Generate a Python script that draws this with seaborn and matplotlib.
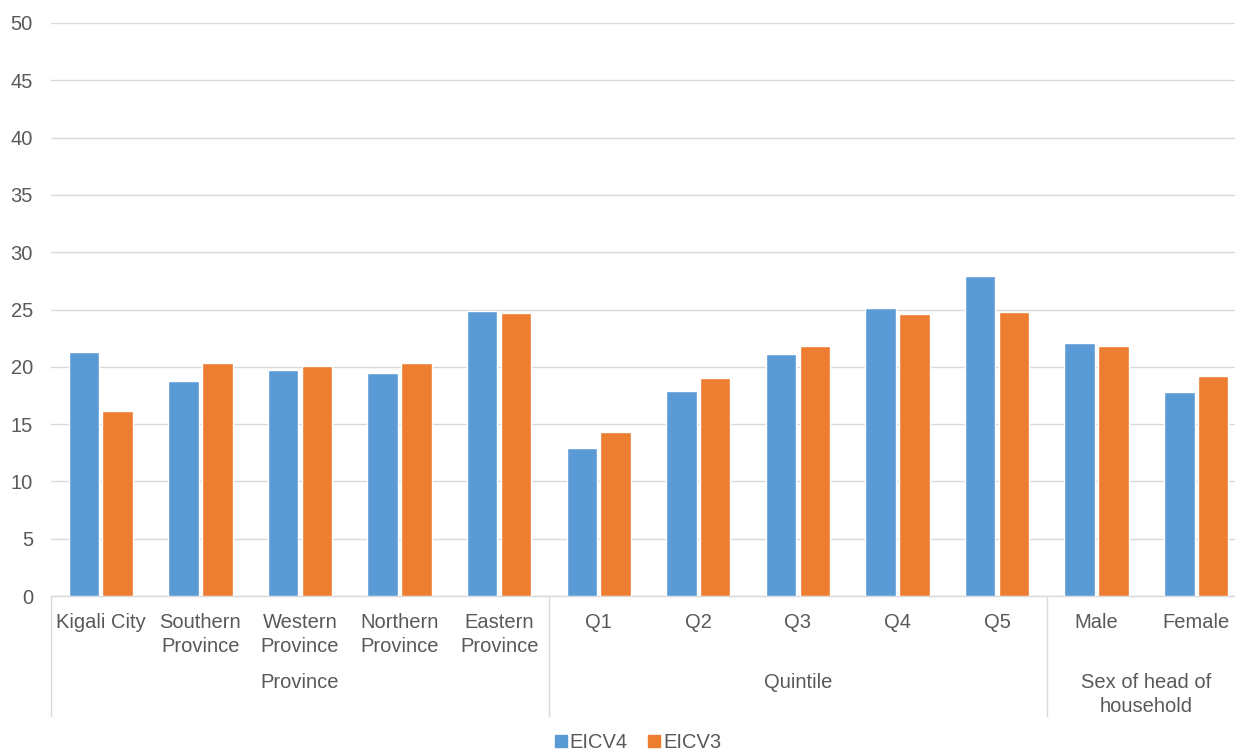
import numpy as np
import pandas as pd
import matplotlib
matplotlib.use("Agg")
import matplotlib.pyplot as plt
import matplotlib.transforms as mtrans
from matplotlib.lines import Line2D
import seaborn as sns

# data
categories = ["Kigali City", "Southern\nProvince", "Western\nProvince", "Northern\nProvince",
              "Eastern\nProvince", "Q1", "Q2", "Q3", "Q4", "Q5", "Male", "Female"]
eicv4 = [21.3, 18.8, 19.7, 19.5, 24.9, 12.9, 17.9, 21.1, 25.1, 27.9, 22.1, 17.8]
eicv3 = [16.1, 20.3, 20.1, 20.3, 24.7, 14.3, 19.0, 21.8, 24.6, 24.8, 21.8, 19.2]
groups = ["Province", "Quintile", "Sex of head of\nhousehold"]
group_sizes = [5, 5, 2]
series = ["EICV4", "EICV3"]
colors = ["#5b9bd5", "#ed7d31"]

df = pd.DataFrame({
    "category": categories * 2,
    "value": eicv4 + eicv3,
    "series": [series[0]] * len(categories) + [series[1]] * len(categories),
})

sns.set_style("white")
plt.rcParams['font.family'] = ['Liberation Sans', 'DejaVu Sans']
txt = "#595959"
grid_c = "#d9d9d9"
fs = 14.5

fig = plt.figure(figsize=(12.35, 7.51), dpi=100)
ax = fig.add_axes([51 / 1235, 155 / 751, 1195 / 1235, 573 / 751])

sns.barplot(data=df, x="category", y="value", hue="series", order=categories,
            hue_order=series, palette=colors, width=0.68, gap=0.1,
            saturation=1, ax=ax, legend=False, zorder=3)

ax.set_ylim(0, 50)
ax.set_xlim(-0.5, len(categories) - 0.5)
ax.set_yticks(np.arange(0, 51, 5))
ax.yaxis.grid(True, color=grid_c, linewidth=1, zorder=0)
ax.set_axisbelow(True)
for s in ["top", "right", "left"]:
    ax.spines[s].set_visible(False)
ax.spines["bottom"].set_color(grid_c)
ax.spines["bottom"].set_linewidth(1)
ax.set_xlabel("")
ax.set_ylabel("")
ax.tick_params(axis="y", length=0, pad=13, labelsize=fs, labelcolor=txt)
ax.tick_params(axis="x", length=0, pad=12.5, labelsize=fs, labelcolor=txt)
for lab in ax.get_xticklabels():
    lab.set_linespacing(1.32)

# group labels and separators under the axis
trans = mtrans.blended_transform_factory(ax.transData, ax.transAxes)
start = 0
bounds = [-0.5]
for g, n in zip(groups, group_sizes):
    center = start + (n - 1) / 2
    ax.text(center, -0.134, g, transform=trans, ha="center", va="top",
            fontsize=fs, color=txt, linespacing=1.38)
    start += n
    bounds.append(start - 0.5)
for b in bounds[:-1]:
    ax.plot([b, b], [0, -120 / 573], transform=trans, color=grid_c,
            linewidth=1, clip_on=False)

handles = [Line2D([0], [0], marker="s", linestyle="", markersize=9,
                  markerfacecolor=c, markeredgecolor=c) for c in colors]
fig.legend(handles, series, loc="center", bbox_to_anchor=(637 / 1235, 8 / 751),
           ncol=2, frameon=False, fontsize=fs, labelcolor=txt,
           handletextpad=0.05, columnspacing=0.9, handlelength=0.8)

fig.savefig("out.png", dpi=100)
